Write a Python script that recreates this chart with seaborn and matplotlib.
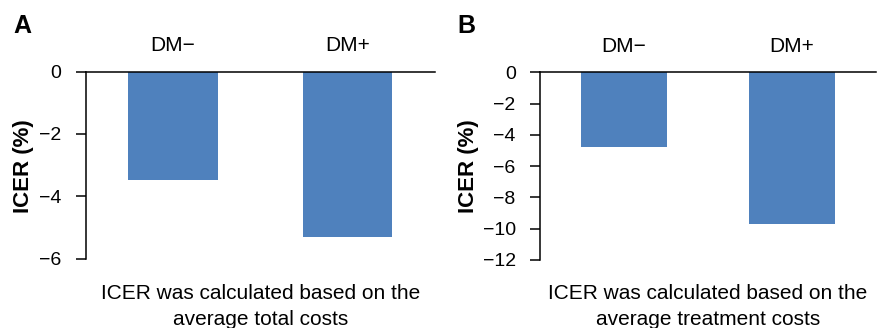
import matplotlib
matplotlib.use("Agg")
import matplotlib.pyplot as plt
import seaborn as sns
import pandas as pd

sns.set_theme(style="white")
plt.rcParams['font.family'] = ['Liberation Sans', 'DejaVu Sans']
plt.rcParams['axes.unicode_minus'] = True

categories = ["DM\u2212", "DM+"]
icer_total = [-3.47, -5.29]
icer_treatment = [-4.76, -9.68]
yticks_a = [0, -2, -4, -6]
yticks_b = [0, -2, -4, -6, -8, -10, -12]
panel_letters = ["A", "B"]
captions = ["ICER was calculated based on the\naverage total costs",
            "ICER was calculated based on the\naverage treatment costs"]
ylabel = "ICER (%)"
bar_color = "#4F81BD"

W, H = 878, 328
fig = plt.figure(figsize=(W / 100, H / 100), dpi=100)

def px_axes(left, right, top, bottom):
    return fig.add_axes([left / W, 1 - bottom / H, (right - left) / W, (bottom - top) / H])

axA = px_axes(85.7, 435, 71.5, 258.7)
axB = px_axes(540, 876, 72.3, 260)

specs = [
    (axA, icer_total, yticks_a, (-6, 0), 85.7, 435, 23, 22, 26),
    (axB, icer_treatment, yticks_b, (-12, 0), 540, 876, 469, 466, 26),
]

for i, (ax, vals, yt, ylim, l, r, ylab_x, letter_x, letter_y) in enumerate(specs):
    df = pd.DataFrame({"group": categories, "value": vals})
    sns.barplot(data=df, x="group", y="value", color=bar_color, saturation=1,
                width=0.51, ax=ax, edgecolor="none")
    ax.set_ylim(*ylim)
    ax.set_yticks(yt)
    ax.set_xlim(-0.5, 1.5)
    ax.xaxis.tick_top()
    ax.tick_params(axis="x", length=0, pad=12, labelsize=15, colors="black")
    ax.tick_params(axis="y", direction="out", length=7.5, width=1.1, pad=10,
                   labelsize=14, colors="black", left=True)
    ax.set_xlabel("")
    ax.set_ylabel("")
    for s in ["right", "bottom"]:
        ax.spines[s].set_visible(False)
    for s in ["left", "top"]:
        ax.spines[s].set_visible(True)
        ax.spines[s].set_color("black")
        ax.spines[s].set_linewidth(1.1)
    fig.text(((l + r) / 2) / W, 1 - 284 / H, captions[i], ha="center", va="top",
             fontsize=15, linespacing=1.45, color="black")
    fig.text(ylab_x / W, 1 - 166 / H, ylabel, rotation=90, ha="center", va="center",
             fontsize=16, fontweight="bold", color="black")
    fig.text(letter_x / W, 1 - letter_y / H, panel_letters[i], ha="center", va="center",
             fontsize=18, fontweight="bold", color="black")

fig.savefig("out.png", dpi=100)
